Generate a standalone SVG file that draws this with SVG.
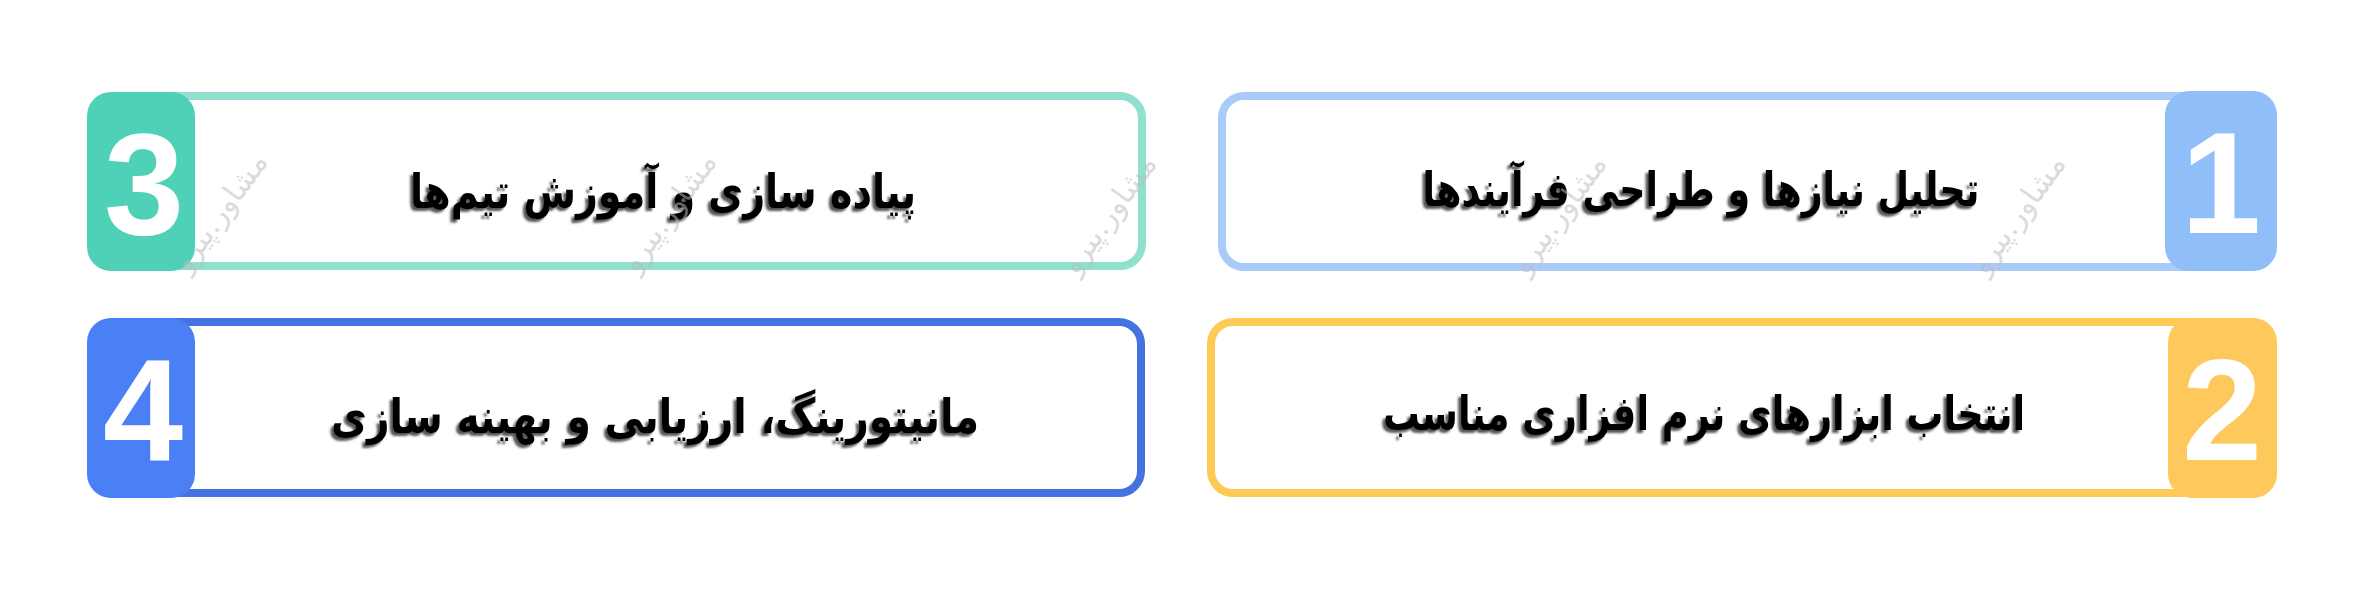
<svg xmlns="http://www.w3.org/2000/svg" width="2362" height="592" viewBox="0 0 2362 592">
<defs>
<style>
.frame{fill:#ffffff;stroke-width:8}
.label{font-family:"DejaVu Sans","Noto Sans",sans-serif;font-weight:bold;font-size:48px;fill:#000000;text-anchor:middle;direction:rtl}
.num{font-family:"Liberation Sans",Arial,sans-serif;font-weight:bold;font-size:144px;fill:#ffffff;text-anchor:middle}
.wm{font-family:"DejaVu Sans",sans-serif;font-size:30px;fill:#bdbdbd;fill-opacity:0.55;text-anchor:middle;direction:rtl}
</style>
<filter id="sh" x="-5%" y="-30%" width="110%" height="160%">
<feDropShadow dx="-3" dy="3" stdDeviation="0.8" flood-color="#3a3a3a" flood-opacity="0.85"/>
</filter>
</defs>
<rect width="2362" height="592" fill="#ffffff"/>
<g id="connectors"></g>
<g id="node1">
<rect class="frame" x="1222" y="96" width="1040" height="171" rx="22" stroke="#a9cbfa"/>
<rect x="2165" y="91" width="112" height="180" rx="24" fill="#8fbef9"/>
<text class="num" x="2221" y="233">1</text>
<text class="label" x="1701" y="206" textLength="557" lengthAdjust="spacingAndGlyphs" filter="url(#sh)">تحلیل نیازها و طراحی فرآیندها</text>
</g>
<g id="node2">
<rect class="frame" x="1211" y="322" width="1050" height="171" rx="22" stroke="#fdca55"/>
<rect x="2168" y="318" width="109" height="180" rx="24" fill="#fec95c"/>
<text class="num" x="2222" y="460">2</text>
<text class="label" x="1704" y="430" textLength="642" lengthAdjust="spacingAndGlyphs" filter="url(#sh)">انتخاب ابزارهای نرم افزاری مناسب</text>
</g>
<g id="node3">
<rect class="frame" x="100" y="96" width="1042" height="170" rx="22" stroke="#8fe0cd"/>
<rect x="87" y="92" width="108" height="179" rx="24" fill="#4fd1b8"/>
<text class="num" x="144" y="234">3</text>
<text class="label" x="663" y="208" textLength="506" lengthAdjust="spacingAndGlyphs" filter="url(#sh)">پیاده سازی و آموزش تیم‌ها</text>
</g>
<g id="node4">
<rect class="frame" x="100" y="322" width="1041" height="171" rx="22" stroke="#4472e0"/>
<rect x="87" y="318" width="108" height="180" rx="24" fill="#4a7ff5"/>
<text class="num" x="143" y="460">4</text>
<text class="label" x="655" y="433" textLength="648" lengthAdjust="spacingAndGlyphs" filter="url(#sh)">مانیتورینگ، ارزیابی و بهینه سازی</text>
</g>
<g id="watermarks">
<text class="wm" transform="translate(228,218) rotate(-54)">مشاور.پیرو</text>
<text class="wm" transform="translate(677,218) rotate(-54)">مشاور.پیرو</text>
<text class="wm" transform="translate(1117,220) rotate(-54)">مشاور.پیرو</text>
<text class="wm" transform="translate(1567,220) rotate(-54)">مشاور.پیرو</text>
<text class="wm" transform="translate(2026,220) rotate(-54)">مشاور.پیرو</text>
</g>
</svg>
